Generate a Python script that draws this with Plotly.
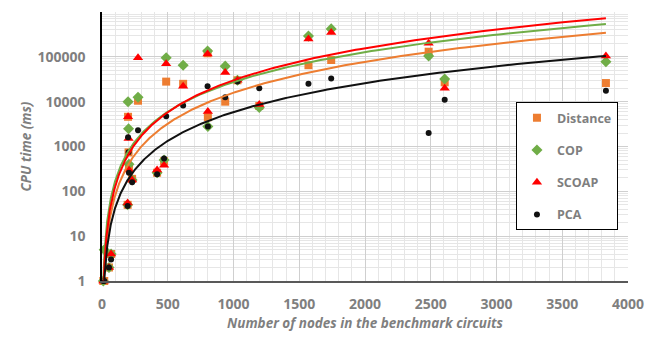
import numpy as np
import plotly.graph_objects as go

# Node counts of the benchmark circuits
nodes = [10, 17, 53, 69, 195, 198, 202, 205, 229, 274, 419, 472, 488, 617, 803, 805,
         937, 1030, 1196, 1570, 1743, 2484, 2606, 3832]

# CPU time (ms) per method
distance = [1, 1, 2, 4, 50, 4600, 740, 350, 190, 10500, 260, 470, 28000, 25000, 120000, 4500,
            10000, 30000, 8000, 65000, 85000, 130000, 27000, 26000]
cop = [1, 5, 2, 4, 50, 10000, 2500, 400, 180, 12500, 260, 500, 95000, 65000, 135000, 2800,
       62000, 30000, 7400, 290000, 420000, 105000, 32000, 78000]
scoap = [1, 1, 2, 4, 55, 4600, 1500, 300, 180, 95000, 300, 380, 70000, 22000, 115000, 6000,
         45000, 30000, 8700, 250000, 350000, 200000, 20000, 105000]
pca = [1, 1, 2, 3, 47, 1600, 740, 260, 160, 2300, 240, 540, 4700, 8200, 22000, 2800,
       12500, 28000, 20000, 25000, 33000, 2000, 11000, 17500]

# Power trendline coefficients  y = a * x^b
trend_a = {"Distance": 0.00214, "COP": 0.00646, "SCOAP": 0.00234, "PCA": 0.00224}
trend_b = {"Distance": 2.29, "COP": 2.21, "SCOAP": 2.37, "PCA": 2.14}

series = [
    ("Distance", distance, "#ED7D31", "square", 8),
    ("COP", cop, "#70AD47", "diamond", 8.5),
    ("SCOAP", scoap, "#FF0000", "triangle-up", 9),
    ("PCA", pca, "#111111", "circle", 6),
]

y_tick_vals = [1, 10, 100, 1000, 10000, 100000, 1000000]
y_tick_text = ["1", "10", "100", "1000", "10000", "100000", "1000000"]

GRAY = "#7f7f7f"
FONT = "Open Sans"

fig = go.Figure()

for i, (name, vals, color, sym, size) in enumerate(series):
    fig.add_trace(go.Scatter(
        x=nodes, y=vals, mode="markers", name=name,
        legendgroup=name,
        marker=dict(symbol=sym, size=size, color=color, line=dict(width=0)),
        cliponaxis=False,
    ))

xs = np.geomspace(min(nodes), max(nodes), 400)
for name, vals, color, sym, size in series:
    ys = trend_a[name] * xs ** trend_b[name]
    fig.add_trace(go.Scatter(
        x=xs, y=ys, mode="lines", showlegend=False, hoverinfo="skip",
        line=dict(color=color, width=2),
    ))

minor_y = [m * 10 ** d for d in range(0, 6) for m in range(2, 10)]

fig.update_layout(
    width=660, height=339,
    margin=dict(l=94, r=40, t=4, b=66, autoexpand=False),
    paper_bgcolor="white", plot_bgcolor="white",
    font=dict(family=FONT, color=GRAY, size=14),
    showlegend=True,
    legend=dict(
        x=0.787, y=0.665, xanchor="left", yanchor="top",
        bordercolor="#000000", borderwidth=1, bgcolor="white",
        font=dict(family=FONT, size=12.5, color=GRAY, weight="bold"),
        tracegroupgap=13,
        itemwidth=30,
    ),
    xaxis=dict(
        range=[0, 4000], dtick=500, tick0=0, automargin=False,
        showgrid=True, gridcolor="#cfcfcf", gridwidth=1,
        minor=dict(dtick=100, showgrid=True, gridcolor="#e6e6e6", gridwidth=1),
        showline=True, linecolor="#595959", linewidth=1.5,
        zeroline=False, ticks="",
        tickfont=dict(family=FONT, size=14, color=GRAY, weight="bold"),
        ticklabelstandoff=9,
        title=dict(text="Number of nodes in the benchmark circuits",
                   font=dict(family=FONT, size=13.5, color=GRAY, weight="bold", style="italic"),
                   standoff=7),
    ),
    yaxis=dict(
        type="log", range=[0, 6], automargin=False,
        tickvals=y_tick_vals, ticktext=y_tick_text,
        showgrid=True, gridcolor="#cfcfcf", gridwidth=1,
        minor=dict(tickvals=minor_y, showgrid=True, gridcolor="#e6e6e6", gridwidth=1),
        showline=True, linecolor="#000000", linewidth=1.5,
        zeroline=False, ticks="",
        tickfont=dict(family=FONT, size=14, color=GRAY, weight="bold"),
        ticklabelstandoff=12,
        title=dict(text="CPU time (ms)",
                   font=dict(family=FONT, size=13.5, color=GRAY, weight="bold", style="italic"),
                   standoff=3),
    ),
)

fig.write_html("out.html")
